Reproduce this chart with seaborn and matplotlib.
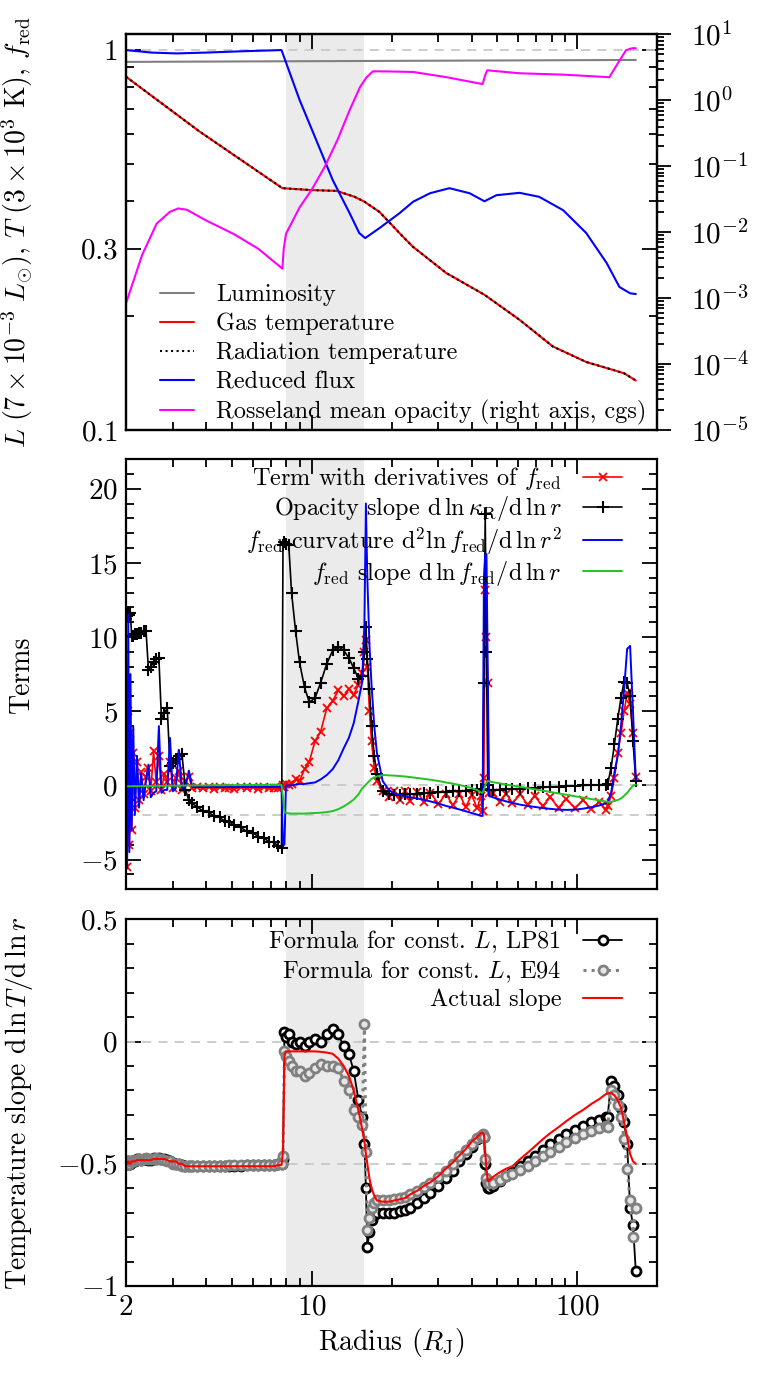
import numpy as np
import pandas as pd
import seaborn as sns
import matplotlib.pyplot as plt
from matplotlib.ticker import FixedLocator, NullFormatter

# ---------------- top panel data ----------------
lum_radius = [2.0, 10.0, 50.0, 166.0]
luminosity = [0.931, 0.935, 0.939, 0.942]

temp_radius = [2.0, 3.79, 7.76, 10.0, 12.4, 14.5, 15.8, 18.0, 21.4, 24.0,
               32.1, 44.7, 60.6, 80.8, 108, 136, 150, 166]
gas_temp = [0.851, 0.61, 0.433, 0.428, 0.426, 0.411, 0.399, 0.375, 0.33, 0.304,
            0.259, 0.227, 0.195, 0.166, 0.151, 0.144, 0.141, 0.135]
# radiation temperature lies on top of the gas temperature
rad_temp = list(gas_temp)

flux_radius = [2.0, 2.5, 3.1, 4.0, 5.5, 7.0, 7.7, 9.0, 10.4, 12.0, 13.9, 15.1,
               15.9, 18.0, 21.4, 24.1, 27.9, 33.0, 39.3, 44.7, 49.6, 60.6,
               71.8, 88.4, 108, 129, 144, 158, 166]
reduced_flux = [1.0, 0.985, 0.98, 0.985, 0.993, 0.998, 1.0, 0.74, 0.58, 0.455,
                0.372, 0.33, 0.32, 0.34, 0.372, 0.399, 0.42, 0.433, 0.42, 0.40,
                0.415, 0.421, 0.411, 0.379, 0.33, 0.275, 0.238, 0.229, 0.228]

kappa_radius = [2.0, 2.3, 2.61, 2.93, 3.14, 3.39, 4.0, 5.06, 6.3, 7.76, 7.85,
                8.01, 9.02, 10.0, 11.2, 12.5, 13.9, 15.2, 16.1, 17.0, 18.6,
                24.1, 32.2, 42.8, 44.0, 45.0, 45.8, 60.6, 88.4, 132, 142,
                152.5, 161, 166]
kappa_ross = [8.3e-4, 4.5e-3, 1.35e-2, 2.04e-2, 2.29e-2, 2.19e-2, 1.51e-2,
              9.5e-3, 5.6e-3, 2.8e-3, 5.6e-3, 9.5e-3, 2.4e-2, 4.4e-2, 9.8e-2,
              0.25, 0.71, 1.58, 2.24, 2.75, 2.75, 2.69, 2.24, 1.80, 1.76, 2.4,
              2.85, 2.57, 2.45, 2.24, 3.63, 5.75, 6.17, 6.17]

# ---------------- middle / bottom panel data (shared radius grid) ----------------
radius = [
    2.00, 2.02, 2.04, 2.06, 2.08, 2.10, 2.13, 2.16, 2.20, 2.24,
    2.28, 2.33, 2.38, 2.43, 2.48, 2.54, 2.60, 2.66, 2.72, 2.79,
    2.86, 2.93, 3.00, 3.08, 3.16, 3.25, 3.35, 3.45, 3.55,
    3.7, 3.9, 4.1, 4.3, 4.5, 4.7, 4.9, 5.1, 5.4, 5.7, 6.0, 6.3, 6.6, 6.9, 7.2, 7.5, 7.7,
    7.8, 7.9, 8.0,
    8.2, 8.4, 8.7, 9.0, 9.4, 9.8, 10.3, 10.8, 11.4, 12.0, 12.6, 13.2, 13.8, 14.4, 15.0, 15.5,
    15.8, 16.0, 16.2, 16.5, 16.8, 17.2, 17.6,
    18.5, 19.5, 20.5, 21.5, 22.5, 23.5, 25, 26.5, 28, 30, 32, 34, 36, 38, 40, 42, 43.3,
    44.0, 44.5, 45.0, 45.5, 46.0, 46.5,
    48, 51, 54, 57, 61, 65, 69, 74, 79, 85, 91, 98, 105, 113, 121, 128,
    130, 134, 138, 142, 146, 150, 154, 158, 162, 166,
]

term_fred = [
    4.5, -5.5, 5.0, -4.0, 3.5, -3.0, 2.2, -1.5, 1.6, -1.0,
    0.9, -0.6, 0.6, 1.2, -0.4, 2.3, 0.2, 2.0, -0.3, 0.8,
    0.2, 1.6, -0.2, 0.5, 1.0, -0.3, 0.3, 0.6, -0.2,
    -0.1, -0.2, -0.1, -0.25, -0.1, -0.2, -0.15, -0.25, -0.1, -0.2, -0.1, -0.25, -0.1, -0.2, -0.15, -0.2, -0.1,
    0.0, -0.1, 0.1,
    0.0, 0.1, 0.4, 0.3, 1.1, 1.6, 3.0, 3.6, 5.2, 5.7, 6.4, 6.0, 6.5, 6.1, 6.8, 7.6,
    9.0, 9.8, 8.0, 5.0, 3.0, 1.2, 0.3,
    -0.4, -0.8, -0.35, -0.95, -0.4, -1.05, -0.45, -1.15, -0.5, -1.25, -0.55, -1.35, -0.6, -1.45, -0.65, -1.55, -0.7,
    -1.7, 0.5, 13.2, 10.0, 6.9, -0.5,
    -0.5, -1.1, -0.55, -1.2, -0.6, -1.3, -0.7, -1.4, -0.8, -1.5, -0.9, -1.55, -1.0, -1.6, -1.1, -1.65,
    -1.4, -0.7, 0.5, 2.2, 3.5, 5.0, 6.2, 5.5, 3.5, 0.6,
]

opacity_slope = [
    11.2, 11.4, 11.6, 11.5, 11.6, 10.1, 10.1, 10.2, 10.2, 10.3,
    10.3, 10.4, 10.4, 7.8, 8.0, 8.3, 8.5, 8.6, 4.5, 4.9,
    5.2, 1.3, 1.5, 1.8, 2.0, 2.1, -0.3, -1.0, -1.2,
    -1.45, -1.72, -1.82, -2.08, -2.15, -2.4, -2.45, -2.7, -2.82, -3.1, -3.18, -3.46, -3.53, -3.8, -3.84, -4.1, -4.2,
    16.2, 16.4, 16.3,
    16.2, 13.0, 10.4, 8.3, 6.6, 5.6, 5.9, 6.9, 8.2, 9.1, 9.35, 9.1, 8.6, 7.9, 7.2, 7.4,
    9.0, 10.7, 8.5, 6.5, 4.0, 2.0, 0.8,
    -0.4, -0.55, -0.62, -0.62, -0.6, -0.58, -0.56, -0.53, -0.5, -0.47, -0.44, -0.41, -0.38, -0.35, -0.32, -0.29, -0.27,
    -0.3, 6.9, 18.3, 9.0, 0.0, -0.3,
    -0.3, -0.28, -0.26, -0.24, -0.21, -0.19, -0.16, -0.13, -0.11, -0.08, -0.05, -0.03, 0.0, 0.02, 0.04, 0.06,
    0.07, 1.2, 2.8, 4.5, 5.9, 7.0, 6.9, 6.0, 3.0, 0.3,
]

fred_curv = [
    2.0, -5.6, 11.5, -4.5, 7.5, -3.0, 4.0, -2.0, 2.0, -1.5,
    0.8, -1.0, 0.3, 1.4, -0.8, -0.5, -0.4, 4.0, -0.5, -0.3,
    -0.3, 3.2, -0.4, -0.2, 2.4, -0.2, -0.1, 1.0, -0.1,
    -0.1, -0.12, -0.1, -0.1, -0.12, -0.1, -0.1, -0.11, -0.1, -0.1, -0.12, -0.1, -0.1, -0.11, -0.1, -0.1, -0.1,
    -4.0, -4.0, 0.0,
    0.0, 0.0, 0.05, 0.1, 0.1, 0.15, 0.2, 0.4, 0.7, 1.1, 1.7, 2.5, 3.2, 4.2, 5.7, 7.0,
    11.0, 19.0, 14.0, 9.5, 6.8, 4.0, 2.2,
    0.3, -0.3, -0.55, -0.65, -0.72, -0.8, -0.88, -0.98, -1.08, -1.22, -1.38, -1.5, -1.62, -1.74, -1.86, -1.97, -2.05,
    -2.06, 14.0, 15.6, 15.6, 8.0, -0.7,
    -0.8, -0.95, -1.08, -1.18, -1.3, -1.38, -1.45, -1.52, -1.58, -1.63, -1.65, -1.63, -1.57, -1.47, -1.35, -1.2,
    -1.15, -0.5, 0.9, 2.0, 4.0, 6.5, 9.2, 9.4, 5.0, 0.3,
]

fred_slope = [
    -0.06, -0.06, -0.06, -0.06, -0.06, -0.05, -0.05, -0.05, -0.05, -0.05,
    -0.05, -0.04, -0.04, -0.04, -0.04, -0.04, -0.03, -0.03, -0.03, -0.03,
    -0.03, -0.02, -0.02, -0.02, -0.02, -0.01, -0.01, -0.01, -0.01,
    0.0, 0.0, 0.0, 0.01, 0.01, 0.01, 0.02, 0.02, 0.02, 0.03, 0.03, 0.03, 0.03, 0.04, 0.04, 0.04, 0.04,
    -0.8, -1.8, -1.85,
    -1.88, -1.9, -1.9, -1.9, -1.9, -1.88, -1.86, -1.84, -1.8, -1.73, -1.6, -1.42, -1.2, -0.95, -0.6, -0.2,
    -0.05, 0.05, 0.15, 0.3, 0.45, 0.52, 0.6,
    0.7, 0.68, 0.66, 0.63, 0.6, 0.56, 0.5, 0.44, 0.38, 0.3, 0.2, 0.12, 0.03, -0.07, -0.18, -0.32, -0.47,
    -0.5, -0.3, 0.0, 0.2, 0.3, 0.28,
    0.22, 0.14, 0.06, -0.01, -0.1, -0.18, -0.26, -0.35, -0.44, -0.54, -0.63, -0.73, -0.82, -0.92, -1.01, -1.08,
    -1.12, -1.1, -1.05, -0.98, -0.88, -0.7, -0.5, -0.25, -0.02, 0.06,
]

actual_slope = [
    -0.50, -0.50, -0.49, -0.50, -0.50, -0.49, -0.49, -0.49, -0.485, -0.485,
    -0.485, -0.485, -0.485, -0.485, -0.485, -0.48, -0.48, -0.48, -0.48, -0.48,
    -0.485, -0.49, -0.49, -0.49, -0.50, -0.50, -0.51, -0.51, -0.51,
    -0.51, -0.51, -0.51, -0.51, -0.51, -0.51, -0.51, -0.51, -0.51, -0.51, -0.51, -0.51, -0.51, -0.51, -0.51, -0.505, -0.505,
    -0.45, -0.06, -0.04,
    -0.04, -0.04, -0.04, -0.04, -0.04, -0.04, -0.04, -0.042, -0.045, -0.05, -0.07, -0.1, -0.14, -0.2, -0.28, -0.36,
    -0.41, -0.46, -0.5, -0.56, -0.6, -0.63, -0.65,
    -0.655, -0.655, -0.65, -0.645, -0.64, -0.625, -0.61, -0.59, -0.575, -0.55, -0.52, -0.495, -0.465, -0.44, -0.41, -0.39, -0.375,
    -0.372, -0.38, -0.45, -0.52, -0.57, -0.57,
    -0.555, -0.535, -0.52, -0.51, -0.48, -0.455, -0.43, -0.4, -0.375, -0.35, -0.325, -0.3, -0.28, -0.255, -0.235, -0.215,
    -0.212, -0.21, -0.22, -0.24, -0.27, -0.33, -0.39, -0.46, -0.49, -0.5,
]

formula_lp81 = [
    -0.50, -0.50, -0.49, -0.50, -0.50, -0.49, -0.49, -0.49, -0.48, -0.48,
    -0.485, -0.48, -0.48, -0.485, -0.485, -0.475, -0.48, -0.475, -0.48, -0.48,
    -0.485, -0.49, -0.495, -0.50, -0.50, -0.505, -0.51, -0.51, -0.51,
    -0.51, -0.51, -0.51, -0.51, -0.51, -0.51, -0.51, -0.51, -0.51, -0.505, -0.505, -0.505, -0.505, -0.505, -0.505, -0.50, -0.50,
    -0.48, 0.04, 0.02,
    0.03, 0.0, -0.01, 0.0, -0.02, 0.0, 0.01, 0.0, 0.03, 0.05, 0.03, -0.02, -0.05, -0.12, -0.24, -0.31,
    -0.42, -0.6, -0.84, -0.78, -0.73, -0.71, -0.70,
    -0.70, -0.70, -0.70, -0.695, -0.69, -0.68, -0.66, -0.64, -0.62, -0.59, -0.56, -0.53, -0.49, -0.46, -0.43, -0.40, -0.39,
    -0.385, -0.39, -0.5, -0.58, -0.6, -0.6,
    -0.59, -0.57, -0.55, -0.535, -0.51, -0.49, -0.47, -0.445, -0.42, -0.40, -0.38, -0.36, -0.345, -0.33, -0.32, -0.31,
    -0.31, -0.16, -0.18, -0.22, -0.27, -0.33, -0.42, -0.68, -0.75, -0.94,
]

formula_e94 = [
    -0.50, -0.49, -0.50, -0.50, -0.49, -0.49, -0.49, -0.485, -0.485, -0.48,
    -0.485, -0.48, -0.475, -0.48, -0.48, -0.48, -0.475, -0.48, -0.48, -0.485,
    -0.49, -0.49, -0.50, -0.50, -0.50, -0.51, -0.51, -0.51, -0.51,
    -0.51, -0.51, -0.51, -0.51, -0.51, -0.51, -0.505, -0.505, -0.505, -0.505, -0.505, -0.505, -0.505, -0.505, -0.505, -0.50, -0.50,
    -0.47, -0.04, -0.06,
    -0.08, -0.1, -0.12, -0.12, -0.14, -0.13, -0.11, -0.09, -0.1, -0.1, -0.11, -0.16, -0.2, -0.28, -0.31, -0.34,
    0.07, -0.45, -0.77, -0.72, -0.68, -0.66, -0.65,
    -0.65, -0.65, -0.645, -0.64, -0.635, -0.625, -0.61, -0.595, -0.58, -0.555, -0.53, -0.50, -0.47, -0.445, -0.42, -0.395, -0.385,
    -0.38, -0.39, -0.48, -0.56, -0.58, -0.58,
    -0.58, -0.565, -0.55, -0.54, -0.525, -0.51, -0.49, -0.47, -0.45, -0.43, -0.41, -0.395, -0.38, -0.365, -0.355, -0.345,
    -0.35, -0.2, -0.22, -0.26, -0.31, -0.4, -0.52, -0.65, -0.8, -0.68,
]

terms = pd.DataFrame({
    "radius": radius, "term_fred": term_fred, "opacity_slope": opacity_slope,
    "fred_curv": fred_curv, "fred_slope": fred_slope, "actual": actual_slope,
    "lp81": formula_lp81, "e94": formula_e94,
})

# ---------------- style ----------------
sns.set_theme(style="ticks")
plt.rcParams.update({
    "font.family": ["cmr10", "DejaVu Serif"],
    "mathtext.fontset": "cm",
    "axes.formatter.use_mathtext": True,
    "axes.unicode_minus": True,
    "axes.edgecolor": "black",
    "axes.linewidth": 1.6,
    "text.color": "black",
    "axes.labelcolor": "black",
    "xtick.color": "black",
    "ytick.color": "black",
    "xtick.direction": "in",
    "ytick.direction": "in",
    "xtick.major.size": 11, "xtick.minor.size": 5.5,
    "ytick.major.size": 11, "ytick.minor.size": 5.5,
    "xtick.major.width": 1.3, "xtick.minor.width": 1.3,
    "ytick.major.width": 1.3, "ytick.minor.width": 1.3,
    "xtick.major.pad": 6, "ytick.major.pad": 6,
    "font.size": 20,
    "axes.labelsize": 20,
    "xtick.labelsize": 21,
    "ytick.labelsize": 21,
    "legend.fontsize": 17.5,
})

SHADE = (8.0, 15.8)
GUIDE = dict(color="#c8c8c8", ls=(0, (5, 4)), lw=1.3, zorder=1)


def radius_axis(ax, show_labels):
    ax.set_xscale("log")
    ax.set_xlim(2, 200)
    ax.xaxis.set_major_locator(FixedLocator([2, 10, 100]))
    ax.xaxis.set_minor_locator(FixedLocator([3, 4, 5, 6, 7, 8, 9, 20, 30, 40, 50, 60, 70, 80, 90, 200]))
    ax.xaxis.set_minor_formatter(NullFormatter())
    if show_labels:
        ax.set_xticklabels(["$2$", "$10$", "$100$"])
    else:
        ax.set_xticklabels([])
    ax.tick_params(which="both", direction="in", top=True, right=True)
    ax.axvspan(*SHADE, color="#ebebeb", lw=0, zorder=0)


def line(ax, x, y, data=None, **kws):
    sns.lineplot(x=x, y=y, data=data, ax=ax, estimator=None, sort=False,
                 errorbar=None, legend=False, **kws)
    return ax.lines[-1]


fig = plt.figure(figsize=(7.8, 13.8), dpi=100)
ax1 = fig.add_axes([0.1615, 0.6884, 0.6812, 0.2867])
ax2 = fig.add_axes([0.1615, 0.3556, 0.6812, 0.3118])
ax3 = fig.add_axes([0.1615, 0.0681, 0.6812, 0.2657])

# ---------------- top panel ----------------
radius_axis(ax1, False)
ax1.set_yscale("log")
ax1.set_ylim(0.1, 1.1)
ax1.axhline(1.0, **GUIDE)
h_lum = line(ax1, lum_radius, luminosity, color="gray", lw=1.5)
h_gas = line(ax1, temp_radius, gas_temp, color="red", lw=1.5)
h_rad = line(ax1, temp_radius, rad_temp, color="black", lw=1.5, linestyle=":")
h_flux = line(ax1, flux_radius, reduced_flux, color="blue", lw=1.5)
ax1.yaxis.set_major_locator(FixedLocator([0.1, 0.3, 1.0]))
ax1.set_yticklabels(["$0.1$", "$0.3$", "$1$"])
ax1.yaxis.set_minor_locator(FixedLocator([0.2, 0.4, 0.5, 0.6, 0.7, 0.8, 0.9]))
ax1.yaxis.set_minor_formatter(NullFormatter())
ax1.set_xlabel("")
ax1.set_ylabel(r"$L\ (7\times10^{-3}\ L_{\odot})$, $T\ (3\times10^{3}$ K$)$, $f_\mathrm{red}$")

ax1r = ax1.twinx()
ax1r.set_yscale("log")
ax1r.set_ylim(1e-5, 1e1)
h_kap = line(ax1r, kappa_radius, kappa_ross, color="magenta", lw=1.5)
ax1r.yaxis.set_major_locator(FixedLocator([1e-5, 1e-4, 1e-3, 1e-2, 1e-1, 1e0, 1e1]))
ax1r.set_yticklabels(["$10^{-5}$", "$10^{-4}$", "$10^{-3}$", "$10^{-2}$",
                      "$10^{-1}$", "$10^{0}$", "$10^{1}$"])
ax1r.yaxis.set_minor_locator(FixedLocator(
    [m * 10.0 ** e for e in range(-5, 1) for m in range(2, 10)]))
ax1r.yaxis.set_minor_formatter(NullFormatter())
ax1r.tick_params(axis="y", which="both", direction="out", left=False, right=True)
ax1r.tick_params(axis="y", which="major", length=10, pad=14)
ax1r.tick_params(axis="y", which="minor", length=5)
ax1r.set_xlabel("")
ax1r.set_ylabel("")
ax1.tick_params(axis="y", which="both", left=True, right=True, direction="in")

ax1r.legend([h_lum, h_gas, h_rad, h_flux, h_kap],
            ["Luminosity", "Gas temperature", "Radiation temperature",
             "Reduced flux", "Rosseland mean opacity (right axis, cgs)"],
            loc="lower left", bbox_to_anchor=(0.064, 0.012), frameon=False,
            borderpad=0, borderaxespad=0, handlelength=1.4, handletextpad=0.9,
            labelspacing=0.28)

# ---------------- middle panel ----------------
radius_axis(ax2, False)
ax2.axhline(0, **GUIDE)
ax2.axhline(-2, **GUIDE)
h_t = line(ax2, "radius", "term_fred", data=terms, color="red", lw=1.2,
           marker="x", markersize=6, markeredgewidth=1.3, markeredgecolor="red")
h_o = line(ax2, "radius", "opacity_slope", data=terms, color="black", lw=1.2,
           marker="+", markersize=9, markeredgewidth=1.5, markeredgecolor="black")
h_c = line(ax2, "radius", "fred_curv", data=terms, color="blue", lw=1.4)
h_s = line(ax2, "radius", "fred_slope", data=terms, color="#22c322", lw=1.4)
ax2.set_ylim(-7, 22)
ax2.yaxis.set_major_locator(FixedLocator([-5, 0, 5, 10, 15, 20]))
ax2.set_yticklabels(["$-5$", "$0$", "$5$", "$10$", "$15$", "$20$"])
ax2.yaxis.set_minor_locator(FixedLocator(list(range(-7, 23))))
ax2.set_xlabel("")
ax2.set_ylabel("Terms")
ax2.legend([h_t, h_o, h_c, h_s],
           [r"Term with derivatives of $f_\mathrm{red}$",
            r"Opacity slope $\mathrm{d}\,\ln\kappa_\mathrm{R}/\mathrm{d}\,\ln r$",
            r"$f_\mathrm{red}$ curvature $\mathrm{d}^2\ln f_\mathrm{red}/\mathrm{d}\,\ln r^2$",
            r"$f_\mathrm{red}$ slope $\mathrm{d}\,\ln f_\mathrm{red}/\mathrm{d}\,\ln r$"],
           loc="upper right", bbox_to_anchor=(0.934, 0.985), markerfirst=False,
           frameon=False, borderpad=0, borderaxespad=0, handlelength=1.6,
           handletextpad=0.9, labelspacing=0.08)

# ---------------- bottom panel ----------------
radius_axis(ax3, True)
ax3.axhline(0, **GUIDE)
ax3.axhline(-0.5, **GUIDE)
h_lp = line(ax3, "radius", "lp81", data=terms, color="black", lw=1.3,
            marker="o", markersize=6.5, markeredgewidth=2.0,
            markeredgecolor="black", markerfacecolor="white")
h_e = line(ax3, "radius", "e94", data=terms, color="gray", lw=2.2, linestyle=":",
           marker="o", markersize=6.5, markeredgewidth=2.0,
           markeredgecolor="gray", markerfacecolor="#e6e6e6")
h_a = line(ax3, "radius", "actual", data=terms, color="red", lw=1.5)
ax3.set_ylim(-1, 0.5)
ax3.yaxis.set_major_locator(FixedLocator([-1, -0.5, 0, 0.5]))
ax3.set_yticklabels(["$-1$", "$-0.5$", "$0$", "$0.5$"])
ax3.yaxis.set_minor_locator(FixedLocator(list(np.round(np.arange(-1, 0.51, 0.1), 2))))
ax3.set_ylabel(r"Temperature slope $\mathrm{d}\,\ln T/\mathrm{d}\,\ln r$")
ax3.set_xlabel(r"Radius ($R_\mathrm{J}$)")
ax3.legend([h_lp, h_e, h_a],
           [r"Formula for const. $L$, LP81", r"Formula for const. $L$, E94",
            "Actual slope"],
           loc="upper right", bbox_to_anchor=(0.934, 0.974), markerfirst=False,
           frameon=False, borderpad=0, borderaxespad=0, handlelength=1.6,
           handletextpad=0.9, labelspacing=0.14)

for ax in (ax1, ax2, ax3):
    ax.yaxis.set_label_coords(-0.172, 0.5)

fig.savefig("out.png", dpi=100)
